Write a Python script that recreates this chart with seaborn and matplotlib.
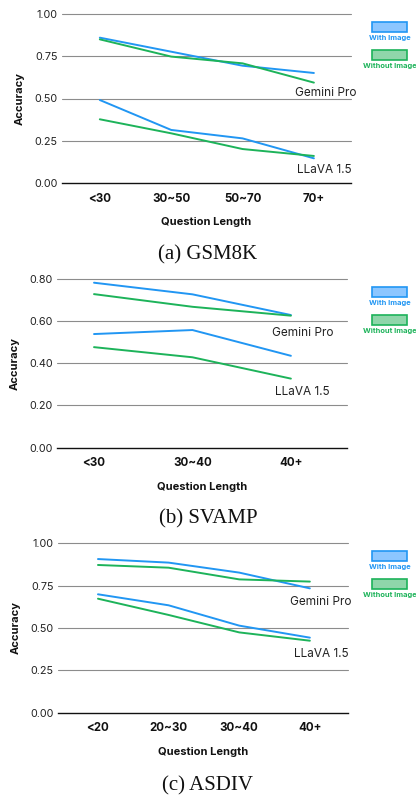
import pandas as pd
import numpy as np
import matplotlib.pyplot as plt
import seaborn as sns
from matplotlib.patches import Rectangle

# ---- data ----
gsm_lengths = ['<30', '30~50', '50~70', '70+']
gsm_gemini_img = [0.86, 0.777, 0.694, 0.651]
gsm_gemini_noimg = [0.85, 0.748, 0.708, 0.594]
gsm_llava_img = [0.491, 0.314, 0.264, 0.146]
gsm_llava_noimg = [0.377, 0.294, 0.201, 0.160]

svamp_lengths = ['<30', '30~40', '40+']
svamp_gemini_img = [0.781, 0.726, 0.628]
svamp_gemini_noimg = [0.727, 0.667, 0.625]
svamp_llava_img = [0.538, 0.557, 0.435]
svamp_llava_noimg = [0.476, 0.428, 0.327]

asdiv_lengths = ['<20', '20~30', '30~40', '40+']
asdiv_gemini_img = [0.907, 0.886, 0.827, 0.734]
asdiv_gemini_noimg = [0.872, 0.856, 0.787, 0.774]
asdiv_llava_img = [0.699, 0.634, 0.514, 0.443]
asdiv_llava_noimg = [0.673, 0.577, 0.474, 0.425]

captions = ['(a) GSM8K', '(b) SVAMP', '(c) ASDIV']

BLUE = '#2196F3'
GREEN = '#1DB35A'
BLUE_FILL = '#8CC6FF'
GREEN_FILL = '#8FD6AA'
W, H = 416, 798

sns.set_theme(style='white')
plt.rcParams['font.family'] = ['Inter', 'DejaVu Sans']


def make_df(lengths, g_img, g_no, l_img, l_no):
    rows = []
    for model, img, no in [('Gemini Pro', g_img, g_no), ('LLaVA 1.5', l_img, l_no)]:
        for i, lab in enumerate(lengths):
            rows.append({'pos': i, 'acc': img[i], 'model': model, 'cond': 'With Image'})
            rows.append({'pos': i, 'acc': no[i], 'model': model, 'cond': 'Without Image'})
    return pd.DataFrame(rows)


def px_axes(fig, x0, y0, x1, y1):
    return fig.add_axes([x0 / W, 1 - y1 / H, (x1 - x0) / W, (y1 - y0) / H])


fig = plt.figure(figsize=(W / 100, H / 100), dpi=100)

panels = [
    dict(df=make_df(gsm_lengths, gsm_gemini_img, gsm_gemini_noimg, gsm_llava_img, gsm_llava_noimg),
         labels=gsm_lengths, rect=(62, 14, 351, 183), xlim=(-0.53, 3.52),
         ylim=(0, 1.0), yticks=[0, 0.25, 0.5, 0.75, 1.0], fmt='{:.2f}',
         gem_pos=(2.73, 0.534), llava_pos=(2.77, 0.077), cap_y=255),
    dict(df=make_df(svamp_lengths, svamp_gemini_img, svamp_gemini_noimg, svamp_llava_img, svamp_llava_noimg),
         labels=svamp_lengths, rect=(57, 278.7, 347, 447.7), xlim=(-0.376, 2.57),
         ylim=(0, 0.8), yticks=[0, 0.2, 0.4, 0.6, 0.8], fmt='{:.2f}',
         gem_pos=(1.81, 0.541), llava_pos=(1.84, 0.265), cap_y=519),
    dict(df=make_df(asdiv_lengths, asdiv_gemini_img, asdiv_gemini_noimg, asdiv_llava_img, asdiv_llava_noimg),
         labels=asdiv_lengths, rect=(58, 543.3, 348, 712.7), xlim=(-0.566, 3.54),
         ylim=(0, 1.0), yticks=[0, 0.25, 0.5, 0.75, 1.0], fmt='{:.2f}',
         gem_pos=(2.72, 0.652), llava_pos=(2.77, 0.347), cap_y=786),
]

for p, cap in zip(panels, captions):
    ax = px_axes(fig, *p['rect'])
    sns.lineplot(data=p['df'], x='pos', y='acc', hue='cond', units='model', estimator=None,
                 palette={'With Image': BLUE, 'Without Image': GREEN}, linewidth=1.4,
                 legend=False, ax=ax, zorder=3)
    ax.set_xlim(*p['xlim'])
    ax.set_ylim(*p['ylim'])
    ax.set_yticks(p['yticks'])
    ax.set_yticklabels([p['fmt'].format(v) for v in p['yticks']], fontsize=7.8, color='#222222')
    ax.set_xticks(range(len(p['labels'])))
    ax.set_xticklabels(p['labels'], fontsize=8.3, fontweight='bold', color='#111111')
    ax.tick_params(axis='both', length=0)
    ax.tick_params(axis='x', pad=7)
    ax.tick_params(axis='y', pad=3)
    for v in p['yticks'][1:]:
        ax.axhline(v, color='#8c8c8c', lw=0.8, zorder=1, clip_on=False)
    for s in ['top', 'right', 'left']:
        ax.spines[s].set_visible(False)
    ax.spines['bottom'].set_color('#111111')
    ax.spines['bottom'].set_linewidth(1.0)
    ax.set_xlabel('Question Length', fontsize=8.0, fontweight='bold', labelpad=9, color='#111111')
    ax.set_ylabel('Accuracy', fontsize=8.0, fontweight='bold', labelpad=7, color='#111111')

    ax.text(*p['gem_pos'], 'Gemini Pro', fontsize=8.5, color='#222222', va='center', ha='left')
    ax.text(*p['llava_pos'], 'LLaVA 1.5', fontsize=8.5, color='#222222', va='center', ha='left')

    # legend on the right
    x0, y0, x1, y1 = p['rect']
    tr = ax.transAxes

    def ax_coords(px, py):
        return (px - x0) / (x1 - x0), (y1 - py) / (y1 - y0)

    for top, fill, edge, lab in [(11, BLUE_FILL, BLUE, 'With Image'), (39, GREEN_FILL, GREEN, 'Without Image')]:
        py = y0 - 3 + top
        bx, by = ax_coords(372, py + 10)
        bw = 35 / (x1 - x0)
        bh = 10 / (y1 - y0)
        ax.add_patch(Rectangle((bx, by), bw, bh, transform=tr, facecolor=fill, edgecolor=edge,
                               lw=1.2, clip_on=False))
        tx, ty = ax_coords(390, py + 16)
        ax.text(tx, ty, lab, transform=tr, fontsize=5.4, fontweight='bold', color=edge,
                ha='center', va='center', clip_on=False)

    fig.text(0.5, 1 - p['cap_y'] / H, cap, ha='center', va='center', fontsize=15,
             family=['Liberation Serif', 'DejaVu Serif'], color='#111111')

fig.savefig('out.png', dpi=100)
